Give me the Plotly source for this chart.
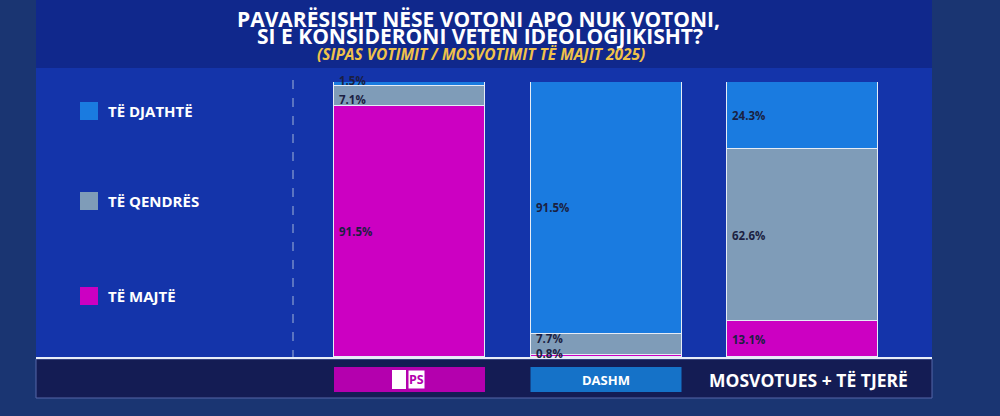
import plotly.graph_objects as go

categories = ["PS", "DASHM", "MOSVOTUES + TË TJERË"]
series_names = ["TË MAJTË", "TË QENDRËS", "TË DJATHTË"]
majte = [91.5, 0.8, 13.1]
qendres = [7.1, 7.7, 62.6]
djathte = [1.5, 91.5, 24.3]
series_values = [majte, qendres, djathte]
series_colors = ["#cc00c2", "#7f9cb8", "#1a7be0"]

W, H = 1000, 416
L, R, T, B = 36, 68, 82, 59
PW = W - L - R
PH = H - T - B
UNIT = 196.5
X0 = 409.5
BAR_W = 151 / UNIT


def px(x):
    return (x - L) / PW


def py(y):
    return (H - B - y) / PH


fig = go.Figure()
for name, vals, col in zip(series_names, series_values, series_colors):
    fig.add_trace(go.Bar(
        x=list(range(len(categories))), y=vals, name=name,
        marker=dict(color=col, line=dict(color="#e6ecf6", width=1.5)),
        width=BAR_W, showlegend=False, hoverinfo="skip",
    ))

shapes = []
annotations = []


def note(x, y, text, size, color, xanchor="center", xref="paper", **kw):
    annotations.append(dict(xref=xref, yref="paper", x=x, y=py(y), text=text, showarrow=False,
                            xanchor=xanchor, yanchor="middle", borderpad=0,
                            font=dict(family="Open Sans", size=size, color=color), **kw))


# background panels
shapes.append(dict(type="rect", xref="paper", yref="paper", x0=px(36), x1=px(932), y0=py(0), y1=py(68),
                   fillcolor="#10288c", line_width=0, layer="below"))
shapes.append(dict(type="rect", xref="paper", yref="paper", x0=px(36), x1=px(932), y0=py(68), y1=py(358),
                   fillcolor="#1434aa", line_width=0, layer="below"))
# dashed separator
shapes.append(dict(type="line", xref="paper", yref="paper", x0=px(293), x1=px(293), y0=py(80), y1=py(357),
                   line=dict(color="#8a9fd0", width=1.2, dash="dash"), layer="below"))
# bottom band
shapes.append(dict(type="rect", xref="paper", yref="paper", x0=px(36), x1=px(932), y0=py(359), y1=py(398),
                   fillcolor="#141c54", line=dict(color="#5566a8", width=1), layer="below"))
# baseline
shapes.append(dict(type="line", xref="paper", yref="paper", x0=px(36), x1=px(932), y0=py(358), y1=py(358),
                   line=dict(color="#e8eef8", width=2)))

# legend
leg_y = [111, 201, 296]
for name, col, yy in zip(series_names[::-1], series_colors[::-1], leg_y):
    shapes.append(dict(type="rect", xref="paper", yref="paper", x0=px(80), x1=px(98), y0=py(yy - 9), y1=py(yy + 9),
                       fillcolor=col, line_width=0))
    note(px(107), yy, "<b>%s</b>" % name, 15, "white", xanchor="left")

# value labels (nudged apart where a neighbouring segment is very thin)
for i in range(len(categories)):
    base = 0
    n = len(series_values)
    for k, vals in enumerate(series_values):
        v = vals[i]
        shift = 0
        below = series_values[k - 1][i] if k > 0 else None
        above = series_values[k + 1][i] if k < n - 1 else None
        if v < 3:
            shift = 4 if k == n - 1 else 2
        elif below is not None and below < 3:
            shift = 6
        elif above is not None and above < 3:
            shift = -4
        annotations.append(dict(xref="x", yref="y", x=i - BAR_W / 2, y=base + v / 2, xshift=4, yshift=shift,
                                text="<b>%.1f%%</b>" % v, showarrow=False, xanchor="left", yanchor="middle",
                                borderpad=0, font=dict(family="Open Sans", size=11.5, color="#1b1f42")))
        base += v

# category labels
box_cols = ["#b400ae", "#1572c8", None]
for i, (cat, bc) in enumerate(zip(categories, box_cols)):
    if bc:
        shapes.append(dict(type="rect", xref="x", yref="paper", x0=i - BAR_W / 2, x1=i + BAR_W / 2,
                           y0=py(367), y1=py(392), fillcolor=bc, line_width=0))
shapes.append(dict(type="rect", xref="paper", yref="paper", x0=px(392), x1=px(406), y0=py(370), y1=py(389),
                   fillcolor="white", line_width=0))
note(px(408), 379.5, "<b>PS</b>", 12.5, "#b400ae", xanchor="left", bgcolor="white")
note(1, 379.5, "<b>DASHM</b>", 13, "white", xref="x")
note(px(808), 380, "<b>MOSVOTUES + TË TJERË</b>", 17.5, "white")

# titles
note(px(478), 19.5, "<b>PAVARËSISHT NËSE VOTONI APO NUK VOTONI,</b>", 21, "white")
note(px(480), 36.5, "<b>SI E KONSIDERONI VETEN IDEOLOGJIKISHT?</b>", 21, "white")
note(px(481), 54.5, "<b><i>(SIPAS VOTIMIT / MOSVOTIMIT TË MAJIT 2025)</i></b>", 15.5, "#f0c24a")

fig.update_layout(
    width=W, height=H, barmode="stack", bargap=0,
    margin=dict(l=L, r=R, t=T, b=B),
    paper_bgcolor="#1a3572", plot_bgcolor="rgba(0,0,0,0)",
    xaxis=dict(range=[-(X0 - L) / UNIT, -(X0 - L) / UNIT + PW / UNIT], showgrid=False, zeroline=False,
               showticklabels=False, ticks="", fixedrange=True),
    yaxis=dict(range=[0, 100.1], showgrid=False, zeroline=False, showticklabels=False, ticks="", fixedrange=True),
    shapes=shapes, annotations=annotations, showlegend=False,
)
fig.write_html("out.html", config={"displayModeBar": False},
               post_script="document.body.style.margin='0';document.body.style.overflow='hidden';")
